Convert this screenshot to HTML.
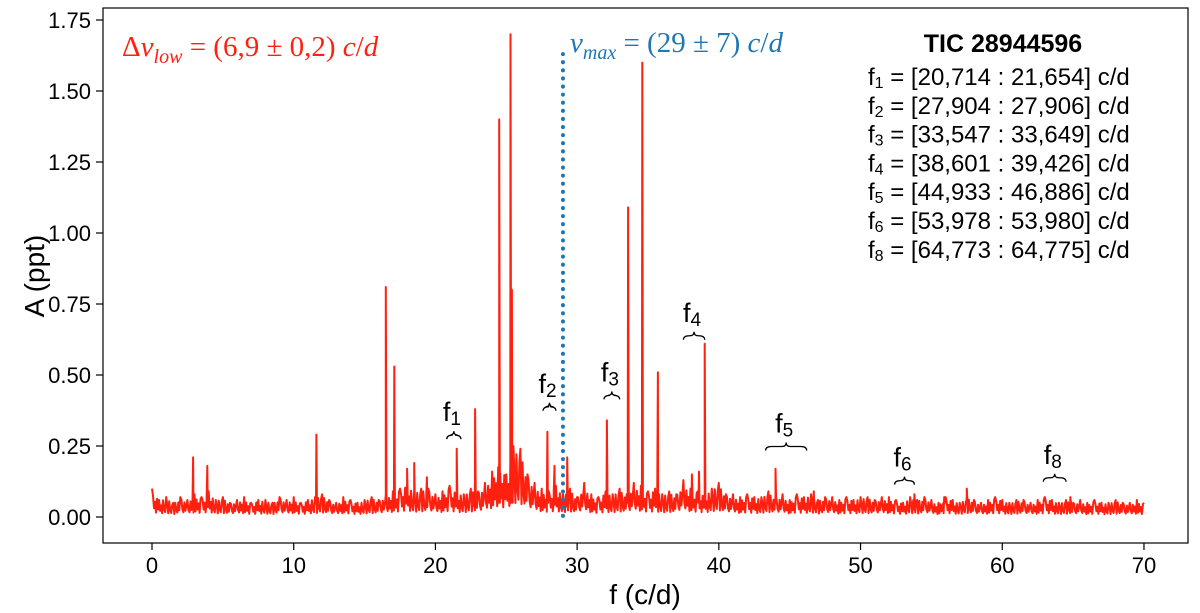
<!DOCTYPE html>
<html><head><meta charset="utf-8"><style>
body{margin:0;background:#fff;}
svg{display:block;font-family:"Liberation Sans",sans-serif;}
</style></head><body>
<svg id="chart" width="1200" height="613" viewBox="0 0 1200 613">
<rect x="103" y="8" width="1085" height="535" fill="none" stroke="#000" stroke-width="1.2"/>
<g id="ticks"></g>
<path id="spectrum" fill="none" stroke="#ff2010" stroke-width="2" stroke-linejoin="round"/>
<line id="numax" stroke="#1f77b4" stroke-width="4" stroke-dasharray="0.1 8" stroke-linecap="round"/>
<text transform="translate(44,276) rotate(-90)" text-anchor="middle" font-size="28">A (ppt)</text>
<text x="645" y="604" text-anchor="middle" font-size="28">f (c/d)</text>
<text x="122" y="56" fill="#ff2010" font-family="Liberation Serif,serif" font-size="29">Δ<tspan font-style="italic">ν</tspan><tspan font-style="italic" font-size="20" dy="7">low</tspan><tspan dy="-7"> = (6,9 ± 0,2) </tspan><tspan font-style="italic">c</tspan>/<tspan font-style="italic">d</tspan></text>
<text x="570" y="52" fill="#1f77b4" font-family="Liberation Serif,serif" font-size="29"><tspan font-style="italic">ν</tspan><tspan font-style="italic" font-size="20" dy="7">max</tspan><tspan dy="-7"> = (29 ± 7) </tspan><tspan font-style="italic">c</tspan>/<tspan font-style="italic">d</tspan></text>
<g font-size="24">
<text x="1003" y="52" text-anchor="middle" font-weight="bold" font-size="25">TIC 28944596</text>
<g id="legend"></g>
</g>
<g id="annots" font-size="27"></g>
</svg>
<script>
const peakFreq=[2.9,3.9,11.6,16.5,17.1,18.0,18.5,19.4,21.5,22.8,24.5,25.3,25.4,27.9,28.4,29.3,32.1,33.6,34.6,35.7,38.1,38.6,39.0,44.0,46.7,53.8,55.9,57.5,64.8];
const peakAmp=[0.21,0.18,0.29,0.81,0.53,0.17,0.19,0.14,0.24,0.38,1.40,1.70,0.80,0.30,0.18,0.21,0.34,1.09,1.60,0.51,0.15,0.16,0.61,0.17,0.09,0.08,0.07,0.10,0.07];
const noise=[0.10,0.06,0.07,0.05,0.07,0.06,0.08,0.07,0.09,0.06,
0.07,0.05,0.06,0.07,0.05,0.06,0.06,0.05,0.07,0.06,
0.07,0.05,0.06,0.07,0.08,0.06,0.05,0.07,0.06,0.05,
0.06,0.07,0.06,0.08,0.09,0.10,0.12,0.09,0.10,0.10,
0.08,0.09,0.11,0.09,0.08,0.10,0.09,0.12,0.16,0.20,
0.15,0.25,0.24,0.15,0.12,0.10,0.09,0.11,0.08,0.10,
0.07,0.12,0.08,0.07,0.09,0.08,0.10,0.08,0.12,0.11,
0.09,0.10,0.08,0.09,0.08,0.13,0.10,0.09,0.08,0.10,
0.12,0.08,0.08,0.07,0.08,0.07,0.07,0.09,0.07,0.08,
0.06,0.08,0.07,0.08,0.06,0.07,0.07,0.06,0.07,0.06,
0.07,0.07,0.06,0.07,0.07,0.06,0.05,0.07,0.06,0.07,
0.06,0.05,0.07,0.06,0.05,0.07,0.06,0.05,0.06,0.07,
0.06,0.05,0.06,0.06,0.05,0.06,0.07,0.06,0.05,0.06,
0.05,0.06,0.05,0.06,0.05,0.05,0.06,0.05,0.05,0.06,
0.05];
const xTicks=[0,10,20,30,40,50,60,70];
const yTicks=[0,0.25,0.5,0.75,1.0,1.25,1.5,1.75];
const legendLabels=[["1","[20,714 : 21,654] c/d"],["2","[27,904 : 27,906] c/d"],["3","[33,547 : 33,649] c/d"],["4","[38,601 : 39,426] c/d"],["5","[44,933 : 46,886] c/d"],["6","[53,978 : 53,980] c/d"],["8","[64,773 : 64,775] c/d"]];
const annotNames=["1","2","3","4","5","6","8"];
const annotLo=[20.8,27.6,31.9,37.5,43.3,52.4,62.9];
const annotHi=[21.8,28.5,33.0,39.0,46.2,53.8,64.5];
const annotY=[0.26,0.36,0.40,0.61,0.22,0.10,0.11];

const X=v=>152+v*14.171, Y=a=>517-a*284;
const NS="http://www.w3.org/2000/svg";
function mk(t,attrs,parent){const e=document.createElementNS(NS,t);for(const k in attrs)e.setAttribute(k,attrs[k]);parent.appendChild(e);return e;}
const tg=document.getElementById('ticks');
xTicks.forEach(v=>{
 const l=mk('line',{x1:X(v),x2:X(v),y1:543,y2:550,stroke:'#000','stroke-width':1.2},tg);
 
 
 const t=mk('text',{x:X(v),y:573,'text-anchor':'middle','font-size':22},tg);t.textContent=v;
 
 
});
yTicks.forEach(v=>{
 const l=mk('line',{x1:96,x2:103,y1:Y(v),y2:Y(v),stroke:'#000','stroke-width':1.2},tg);
 
 
 const t=mk('text',{x:91,y:Y(v)+8,'text-anchor':'end','font-size':22},tg);t.textContent=v.toFixed(2);
 
 
});
// rendering style only: jagged sub-samples between noise samples
const jag=[0.25,0.8,0.35,0.65,0.2,0.9,0.4];
let pts=[];
noise.forEach((a,i)=>{const f=i*0.5;pts.push([f,a]);
 if(i<noise.length-1){for(let k=1;k<7;k++){const b=a+(noise[i+1]-a)*k/7;pts.push([f+0.5*k/7,b*jag[(i+k)%7]]);}}});
peakFreq.forEach((f,i)=>{pts.push([f-0.05,0.05]);pts.push([f,peakAmp[i]]);pts.push([f+0.05,0.05]);});
pts=pts.filter(p=>p[0]>=0&&p[0]<=70);
pts.sort((a,b)=>a[0]-b[0]);
document.getElementById('spectrum').setAttribute('d',pts.map((p,i)=>(i?'L':'M')+X(p[0]).toFixed(1)+','+Y(p[1]).toFixed(1)).join(''));
const nl=document.getElementById('numax');
nl.setAttribute('x1',X(29));nl.setAttribute('x2',X(29));nl.setAttribute('y1',Y(1.63));nl.setAttribute('y2',Y(0));
const lg=document.getElementById('legend');
legendLabels.forEach((l,i)=>{
 const t=mk('text',{x:868,y:85+i*28.8},lg);
 t.innerHTML='f<tspan font-size="16" dy="3">'+l[0]+'</tspan><tspan dy="-3"> = '+l[1]+'</tspan>';
 
 
});
const ag=document.getElementById('annots');
annotNames.forEach((n,i)=>{
 const x1=X(annotLo[i]),x2=X(annotHi[i]),y=Y(annotY[i])-8,xm=(x1+x2)/2;
 const b=mk('path',{d:`M${x1},${y+4} Q${x1},${y} ${x1+6},${y} L${xm-4},${y} Q${xm},${y} ${xm},${y-4} Q${xm},${y} ${xm+4},${y} L${x2-6},${y} Q${x2},${y} ${x2},${y+4}`,fill:'none',stroke:'#000','stroke-width':1.3},ag);
 
 
 const t=mk('text',{x:xm-11,y:y-14},ag);
 t.innerHTML='f<tspan font-size="19" dy="4">'+n+'</tspan>';
 
 
});
</script>
</body></html>
